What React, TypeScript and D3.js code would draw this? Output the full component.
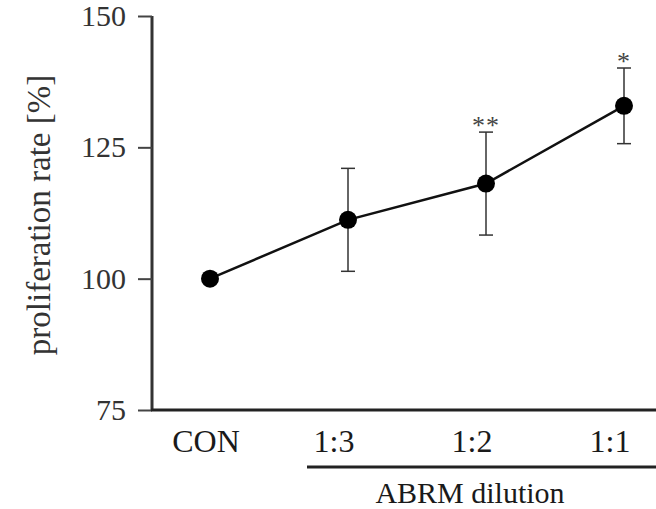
import { useRef, useEffect } from 'react';
import * as d3 from 'd3';

const categories = ['CON', '1:3', '1:2', '1:1'];
const means = [100, 111.2, 118.1, 132.9];
const errors = [0, 9.8, 9.8, 7.2];
const stars = ['', '', '**', '*'];
const yTicks = [75, 100, 125, 150];

export default function App() {
  const svgRef = useRef<SVGSVGElement>(null);

  useEffect(() => {
    if (!svgRef.current) return;
    const width = 656;
    const height = 509;
    const svg = d3.select(svgRef.current);
    svg.selectAll('*').remove();
    svg.attr('width', width).attr('height', height);

    const font = "'Liberation Serif', 'Times New Roman', Times, serif";
    const ink = '#1a1a1a';
    const axisX = 152;
    const axisY = 410;

    const x = d3.scalePoint<string>()
      .domain(categories)
      .range([210, 624]);

    const y = d3.scaleLinear()
      .domain([75, 150])
      .range([axisY, 16]);

    // Y axis
    svg.append('g')
      .attr('transform', `translate(${axisX},0)`)
      .call(d3.axisLeft(y).tickValues(yTicks).tickSize(14).tickPadding(12))
      .call(g => g.select('.domain').attr('stroke', '#333').attr('stroke-width', 3)
        .attr('d', `M0,${y(150)}V${axisY + 1}`))
      .call(g => g.selectAll('.tick line').attr('stroke', '#444').attr('stroke-width', 2))
      .call(g => g.selectAll('.tick text').attr('fill', '#333').attr('font-size', '30px')
        .attr('font-family', font));

    // X axis baseline
    svg.append('line')
      .attr('x1', axisX - 1).attr('x2', width)
      .attr('y1', axisY).attr('y2', axisY)
      .attr('stroke', '#222').attr('stroke-width', 3);

    // Category labels
    svg.append('g')
      .selectAll('text')
      .data(categories)
      .join('text')
      .attr('x', (d, i) => x(d)! + (i === 0 ? -4 : -14))
      .attr('y', 452)
      .attr('text-anchor', 'middle')
      .attr('font-family', font)
      .attr('font-size', '32px')
      .attr('fill', ink)
      .text(d => d);

    // ABRM bracket line
    svg.append('line')
      .attr('x1', 307).attr('x2', width)
      .attr('y1', 467).attr('y2', 467)
      .attr('stroke', '#222').attr('stroke-width', 3);

    svg.append('text')
      .attr('x', 470)
      .attr('y', 503)
      .attr('text-anchor', 'middle')
      .attr('font-family', font)
      .attr('font-size', '30px')
      .attr('fill', ink)
      .text('ABRM dilution');

    // Y label
    svg.append('text')
      .attr('transform', `translate(50,215) rotate(-90)`)
      .attr('text-anchor', 'middle')
      .attr('font-family', font)
      .attr('font-size', '33px')
      .attr('fill', '#333')
      .text('proliferation rate [%]');

    const data = categories.map((c, i) => ({ c, m: means[i], e: errors[i], s: stars[i] }));

    // Error bars
    const eb = svg.append('g')
      .selectAll('g')
      .data(data.filter(d => d.e > 0))
      .join('g')
      .attr('stroke', '#333')
      .attr('stroke-width', 1.5);
    eb.append('line')
      .attr('x1', d => x(d.c)!).attr('x2', d => x(d.c)!)
      .attr('y1', d => y(d.m + d.e)).attr('y2', d => y(d.m - d.e));
    eb.append('line')
      .attr('x1', d => x(d.c)! - 7).attr('x2', d => x(d.c)! + 7)
      .attr('y1', d => y(d.m + d.e)).attr('y2', d => y(d.m + d.e));
    eb.append('line')
      .attr('x1', d => x(d.c)! - 7).attr('x2', d => x(d.c)! + 7)
      .attr('y1', d => y(d.m - d.e)).attr('y2', d => y(d.m - d.e));

    // Line
    const line = d3.line<typeof data[number]>()
      .x(d => x(d.c)!)
      .y(d => y(d.m));
    svg.append('path')
      .datum(data)
      .attr('d', line)
      .attr('fill', 'none')
      .attr('stroke', '#111')
      .attr('stroke-width', 2.5);

    // Points
    svg.append('g')
      .selectAll('circle')
      .data(data)
      .join('circle')
      .attr('cx', d => x(d.c)!)
      .attr('cy', d => y(d.m))
      .attr('r', 9)
      .attr('fill', '#000');

    // Significance stars
    svg.append('g')
      .selectAll('text')
      .data(data.filter(d => d.s))
      .join('text')
      .attr('x', d => x(d.c)!)
      .attr('y', d => y(d.m + d.e) + 2)
      .attr('text-anchor', 'middle')
      .attr('font-family', font)
      .attr('font-size', '26px')
      .attr('letter-spacing', '1px')
      .attr('fill', '#444')
      .text(d => d.s);
  }, []);

  return (
    <svg
      ref={svgRef}
      style={{ position: 'absolute', left: 0, top: 0, display: 'block', background: '#fff' }}
    />
  );
}
